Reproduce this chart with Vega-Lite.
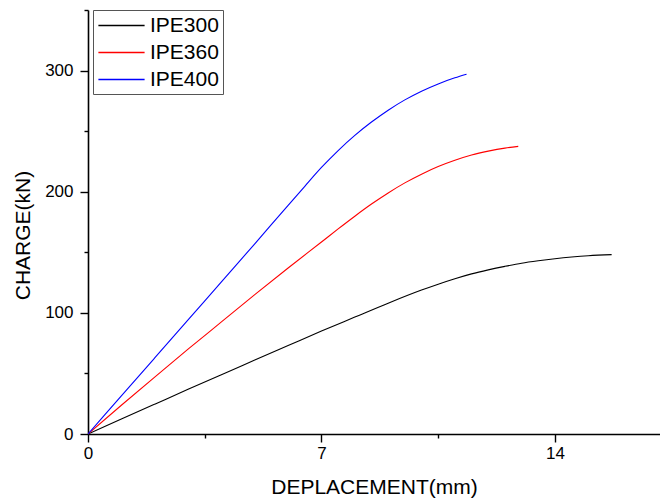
{
  "$schema": "https://vega.github.io/schema/vega-lite/v6.json",
  "width": 572,
  "height": 424,
  "autosize": {"type": "none"},
  "padding": {"left": 88, "top": 10, "right": 0, "bottom": 68},
  "background": "white",
  "config": {
    "view": {"stroke": null},
    "font": "Liberation Sans",
    "axis": {"grid": false, "domainColor": "black", "domainWidth": 1.6, "tickColor": "black", "tickWidth": 1.4, "labelColor": "black", "titleColor": "black", "labelFont": "Liberation Sans", "titleFont": "Liberation Sans", "labelFontSize": 17, "titleFontSize": 21, "titleFontWeight": "normal"}
  },
  "data": {"values": [
    {"s": "IPE300", "x": 0, "y": 0},
    {"s": "IPE300", "x": 1, "y": 12.3},
    {"s": "IPE300", "x": 2, "y": 24.6},
    {"s": "IPE300", "x": 3, "y": 36.9},
    {"s": "IPE300", "x": 4, "y": 49},
    {"s": "IPE300", "x": 5, "y": 61},
    {"s": "IPE300", "x": 6, "y": 73},
    {"s": "IPE300", "x": 7, "y": 85},
    {"s": "IPE300", "x": 8, "y": 96.5},
    {"s": "IPE300", "x": 9, "y": 108},
    {"s": "IPE300", "x": 10, "y": 118.8},
    {"s": "IPE300", "x": 10.5, "y": 123.7},
    {"s": "IPE300", "x": 11, "y": 128.2},
    {"s": "IPE300", "x": 11.5, "y": 132.2},
    {"s": "IPE300", "x": 12, "y": 135.5},
    {"s": "IPE300", "x": 12.5, "y": 138.4},
    {"s": "IPE300", "x": 13, "y": 141},
    {"s": "IPE300", "x": 13.5, "y": 143},
    {"s": "IPE300", "x": 14, "y": 144.7},
    {"s": "IPE300", "x": 14.5, "y": 146.1},
    {"s": "IPE300", "x": 15, "y": 147.2},
    {"s": "IPE300", "x": 15.7, "y": 148.1},
    {"s": "IPE360", "x": 0, "y": 0},
    {"s": "IPE360", "x": 1, "y": 23.7},
    {"s": "IPE360", "x": 2, "y": 47},
    {"s": "IPE360", "x": 3, "y": 70},
    {"s": "IPE360", "x": 4, "y": 92.5},
    {"s": "IPE360", "x": 5, "y": 115},
    {"s": "IPE360", "x": 6, "y": 137},
    {"s": "IPE360", "x": 7, "y": 158.5},
    {"s": "IPE360", "x": 7.5, "y": 169.3},
    {"s": "IPE360", "x": 8, "y": 179.8},
    {"s": "IPE360", "x": 8.5, "y": 189.8},
    {"s": "IPE360", "x": 9, "y": 199},
    {"s": "IPE360", "x": 9.5, "y": 207.3},
    {"s": "IPE360", "x": 10, "y": 214.5},
    {"s": "IPE360", "x": 10.5, "y": 220.8},
    {"s": "IPE360", "x": 11, "y": 226},
    {"s": "IPE360", "x": 11.5, "y": 230.3},
    {"s": "IPE360", "x": 12, "y": 233.5},
    {"s": "IPE360", "x": 12.5, "y": 236},
    {"s": "IPE360", "x": 12.9, "y": 237.4},
    {"s": "IPE400", "x": 0, "y": 0},
    {"s": "IPE400", "x": 1, "y": 31.4},
    {"s": "IPE400", "x": 2, "y": 62.8},
    {"s": "IPE400", "x": 3, "y": 94.2},
    {"s": "IPE400", "x": 4, "y": 125.6},
    {"s": "IPE400", "x": 5, "y": 157},
    {"s": "IPE400", "x": 6, "y": 188.8},
    {"s": "IPE400", "x": 6.5, "y": 204.5},
    {"s": "IPE400", "x": 7, "y": 220},
    {"s": "IPE400", "x": 7.5, "y": 234},
    {"s": "IPE400", "x": 8, "y": 246.5},
    {"s": "IPE400", "x": 8.5, "y": 257.5},
    {"s": "IPE400", "x": 9, "y": 267.3},
    {"s": "IPE400", "x": 9.5, "y": 275.8},
    {"s": "IPE400", "x": 10, "y": 283},
    {"s": "IPE400", "x": 10.5, "y": 289},
    {"s": "IPE400", "x": 11, "y": 294},
    {"s": "IPE400", "x": 11.35, "y": 297}
  ]},
  "mark": {"type": "line", "strokeWidth": 1.1, "interpolate": "monotone", "clip": true},
  "encoding": {
    "x": {"field": "x", "type": "quantitative",
      "scale": {"domain": [0, 17.15], "nice": false, "zero": false},
      "axis": {"title": "DEPLACEMENT(mm)", "values": [0, 3.5, 7, 10.5, 14],
        "labelExpr": "datum.value % 7 === 0 ? datum.label : ''",
        "tickSize": {"expr": "datum.value % 7 === 0 ? 8 : 4"},
        "labelPadding": 3, "titlePadding": 15, "labelFlush": false}},
    "y": {"field": "y", "type": "quantitative",
      "scale": {"domain": [0, 350], "nice": false},
      "axis": {"title": "CHARGE(kN)", "values": [0, 50, 100, 150, 200, 250, 300, 350],
        "labelExpr": "datum.value % 100 === 0 ? datum.label : ''",
        "tickSize": {"expr": "datum.value % 100 === 0 ? 8 : 4"},
        "labelPadding": 7, "titlePadding": 11, "titleY": 225, "labelFlush": false}},
    "color": {"field": "s", "type": "nominal",
      "scale": {"domain": ["IPE300", "IPE360", "IPE400"], "range": ["#000000", "#ff0000", "#0000ff"]},
      "legend": {"title": null, "orient": "none", "legendX": 5, "legendY": 0,
        "symbolType": "M-2.2,0L2.2,0", "symbolSize": 441, "symbolStrokeWidth": 1.3, "symbolOffset": 13,
        "symbolFillColor": "transparent",
        "labelFontSize": 21, "labelFont": "Liberation Sans", "labelColor": "black",
        "strokeColor": "#555555", "fillColor": "white", "padding": 4, "rowPadding": 5, "labelOffset": 17}}
  }
}
